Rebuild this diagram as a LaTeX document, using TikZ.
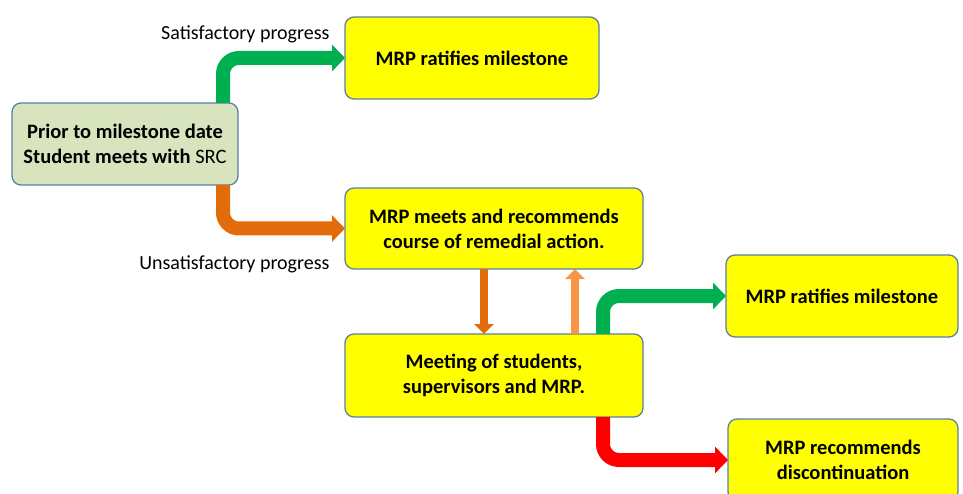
\documentclass[tikz,border=0pt]{standalone}
\usepackage{fontspec}
\setmainfont{Carlito}
\usetikzlibrary{arrows.meta}
\definecolor{boxline}{HTML}{5B7FA6}
\definecolor{boxyellow}{HTML}{FFFF00}
\definecolor{priorfill}{HTML}{D7E4BD}
\definecolor{okgreen}{HTML}{00B050}
\definecolor{warnorange}{HTML}{E36C0A}
\definecolor{paleorange}{HTML}{F79646}
\definecolor{stopred}{HTML}{FF0000}
\tikzset{
  stagebox/.style={draw=boxline, line width=1.3pt, fill=boxyellow, rounded corners=9pt,
    align=center, outer sep=0pt, inner sep=2pt,
    font=\fontsize{20.5}{25}\selectfont\bfseries},
  bigarrow/.style={line width=14pt, rounded corners=16pt,
    -{Triangle[width=26pt,length=13pt]}},
  smallarrow/.style={line width=8pt, -{Triangle[width=19pt,length=10pt]}},
  progress/.style={anchor=east, font=\fontsize{20}{24}\selectfont}
}
\begin{document}
\begin{tikzpicture}[x=1pt, y=-1pt]
    \useasboundingbox (0,0) rectangle (963,494);
    \node[stagebox, fill=priorfill, minimum width=226pt, minimum height=82pt] (prior) at (125,144)
      {Prior to milestone date\\Student meets with {\mdseries SRC}};
    \node[stagebox, minimum width=254pt, minimum height=82pt] (ratify) at (472,58)
      {MRP ratifies milestone};
    \node[stagebox, minimum width=298pt, minimum height=81pt] (remedial) at (494,228.5)
      {MRP meets and recommends\\course of remedial action.};
    \node[stagebox, minimum width=298pt, minimum height=83pt] (meeting) at (494,375.5)
      {Meeting of students,\\supervisors and MRP.};
    \node[stagebox, minimum width=232pt, minimum height=82pt] (ratifytwo) at (842,296)
      {MRP ratifies milestone};
    \node[stagebox, minimum width=230pt, minimum height=82pt] (discont) at (843,460)
      {MRP recommends\\discontinuation};

    \node[progress] (sat) at (333,34) {Satisfactory progress};
    \node[progress] (unsat) at (333,264) {Unsatisfactory progress};

    \draw[bigarrow, okgreen] ([xshift=-15pt]prior.north east) |- (ratify.west);
    \draw[bigarrow, warnorange] ([xshift=-15pt]prior.south east) |- (remedial.west);
    \draw[smallarrow, warnorange] ([xshift=-10pt]remedial.south) -- ([xshift=-10pt]meeting.north);
    \draw[smallarrow, paleorange] ([xshift=81pt]meeting.north) -- ([xshift=81pt]remedial.south);
    \draw[bigarrow, okgreen] ([xshift=-40pt]meeting.north east) |- (ratifytwo.west);
    \draw[bigarrow, stopred] ([xshift=-40pt]meeting.south east) |- (discont.west);
  \end{tikzpicture}
\end{document}
